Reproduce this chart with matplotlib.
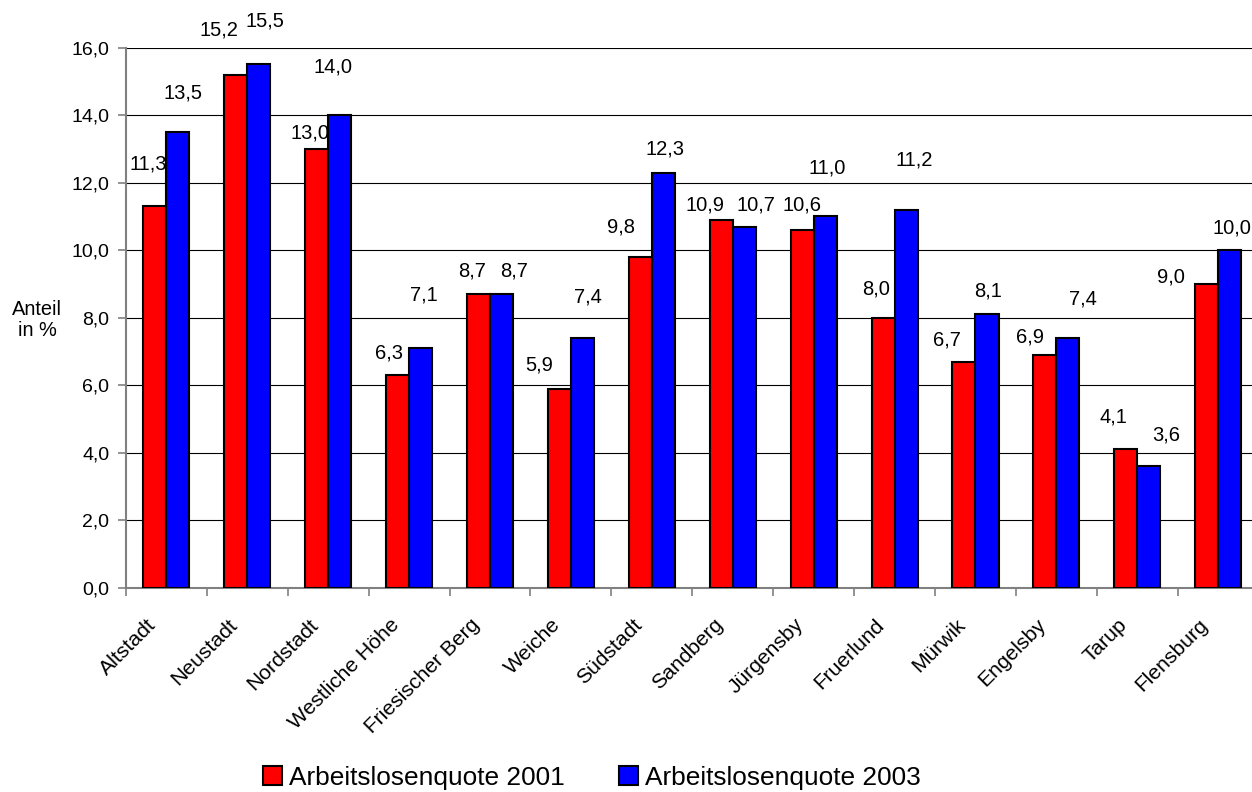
import matplotlib
matplotlib.use("Agg")
import matplotlib.pyplot as plt
import matplotlib.transforms as mtransforms
import numpy as np

plt.rcParams['font.family'] = ['Liberation Sans', 'DejaVu Sans']

# Stadtteile und Quoten (in %)
districts = ["Altstadt", "Neustadt", "Nordstadt", "Westliche Höhe", "Friesischer Berg",
             "Weiche", "Südstadt", "Sandberg", "Jürgensby", "Fruerlund", "Mürwik",
             "Engelsby", "Tarup", "Flensburg"]
quote_2001 = [11.3, 15.2, 13.0, 6.3, 8.7, 5.9, 9.8, 10.9, 10.6, 8.0, 6.7, 6.9, 4.1, 9.0]
quote_2003 = [13.5, 15.5, 14.0, 7.1, 8.7, 7.4, 12.3, 10.7, 11.0, 11.2, 8.1, 7.4, 3.6, 10.0]
y_ticks = [0, 2, 4, 6, 8, 10, 12, 14, 16]

# where the value labels sit (as in the original, not regular)
lab_dx_2001 = [-0.225, -0.351, -0.226, -0.253, -0.224, -0.396, -0.386, -0.344, -0.141,
               -0.230, -0.349, -0.326, -0.292, -0.587]
lab_y_2001 = [12.54, 16.52, 13.46, 6.95, 9.39, 6.60, 10.70, 11.34, 11.34, 8.84, 7.34,
              7.44, 5.07, 9.22]
lab_dx_2003 = [0.208, 0.218, 0.062, 0.179, 0.295, 0.210, 0.162, 0.283, 0.164, 0.240,
               0.151, 0.333, 0.363, 0.174]
lab_y_2003 = [14.64, 16.79, 15.43, 8.67, 9.39, 8.62, 12.99, 11.34, 12.43, 12.67, 8.80,
              8.55, 4.53, 10.65]


def fmt(v):
    return "{:.1f}".format(v).replace(".", ",")


fig = plt.figure(figsize=(12.52, 7.92), dpi=100)
ax = fig.add_axes([0.1006, 0.2576, 0.9047, 0.6824])

x = np.arange(len(districts))
w = 0.285
ax.bar(x - w / 2, quote_2001, w, color="#FF0000", edgecolor="black", linewidth=1.5,
       label="Arbeitslosenquote 2001", zorder=3)
ax.bar(x + w / 2, quote_2003, w, color="#0000FF", edgecolor="black", linewidth=1.5,
       label="Arbeitslosenquote 2003", zorder=3)

for i in range(len(districts)):
    ax.text(i + lab_dx_2001[i], lab_y_2001[i], fmt(quote_2001[i]), ha="center",
            va="center", fontsize=14.5, clip_on=False)
    ax.text(i + lab_dx_2003[i], lab_y_2003[i], fmt(quote_2003[i]), ha="center",
            va="center", fontsize=14.5, clip_on=False)

ax.set_xlim(-0.5, len(districts) - 0.5)
ax.set_ylim(0, 16)
ax.set_yticks(y_ticks)
ax.set_yticklabels([fmt(v) for v in y_ticks], fontsize=14)
ax.yaxis.grid(True, color="black", linewidth=0.8, zorder=0)
ax.set_axisbelow(True)

# category names drawn as text, ticks only between the groups
ax.set_xticks(np.arange(len(districts) + 1) - 0.5)
ax.set_xticklabels([])
ax.tick_params(axis="x", length=6, color="#808080", width=1.2)
ax.tick_params(axis="y", length=6, color="#808080", width=1.2, pad=6)
name_tr = ax.get_xaxis_transform() + mtransforms.ScaledTranslation(-0.13, -0.34,
                                                                   fig.dpi_scale_trans)
for i, name in enumerate(districts):
    ax.text(i, 0, name, transform=name_tr, rotation=45, ha="right", va="center",
            rotation_mode="anchor", fontsize=15.2, clip_on=False)

for side in ["top", "right"]:
    ax.spines[side].set_visible(False)
for side in ["left", "bottom"]:
    ax.spines[side].set_color("#808080")
    ax.spines[side].set_linewidth(1.5)

fig.text(37 / 1252, 1 - 320 / 792, "Anteil\nin %", ha="center", va="center",
         fontsize=14.4, linespacing=1.15)

fig.legend(loc="center", bbox_to_anchor=(592 / 1252, 1 - 778 / 792), ncol=2,
           frameon=False, fontsize=18.9, handlelength=0.73, handleheight=0.73,
           handletextpad=0.27, columnspacing=2.06)

fig.savefig("out.png", dpi=100)
